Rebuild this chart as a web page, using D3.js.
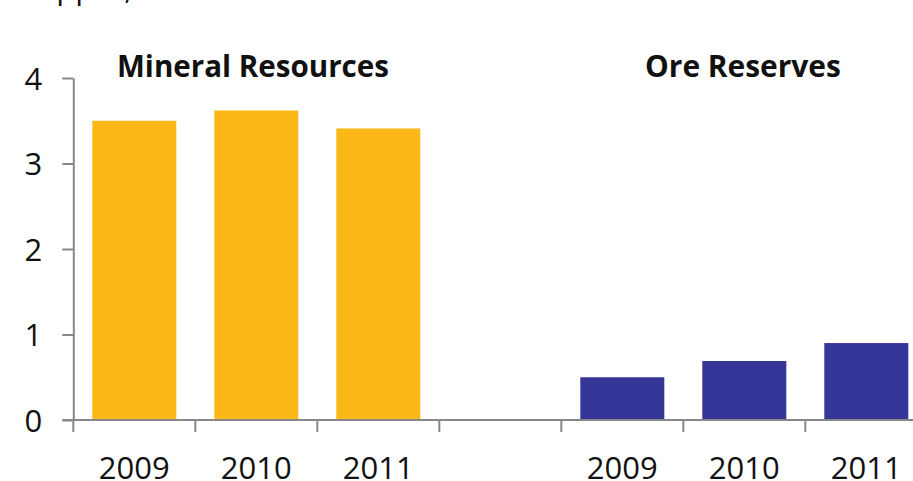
<!DOCTYPE html>
<html>
<head>
<meta charset="utf-8">
<script src="https://cdn.jsdelivr.net/npm/d3@7"></script>
<style>
  html, body { margin: 0; padding: 0; background: #fff; }
  svg { display: block; }
  text { font-family: "Open Sans", "Noto Sans", sans-serif; fill: #111; }
</style>
</head>
<body>
<svg id="chart" width="913" height="481"></svg>
<script>
// Copper contained, Mt
const years = ["2009", "2010", "2011"];
const mineralResources = [3.50, 3.62, 3.41];
const oreReserves = [0.50, 0.69, 0.90];
const yTicks = [0, 1, 2, 3, 4];
const groupTitles = ["Mineral Resources", "Ore Reserves"];
const unitLabel = "Copper, Mt";

const svg = d3.select("#chart");
const W = 913, H = 481;

// One slot per bar, with an empty slot separating the two groups
const slots = [
  ...years.map(y => ({ key: "MR" + y, year: y, value: mineralResources[years.indexOf(y)], group: 0 })),
  { key: "gap", year: "", value: null, group: -1 },
  ...years.map(y => ({ key: "OR" + y, year: y, value: oreReserves[years.indexOf(y)], group: 1 }))
];

const left = 73.3, step = 122;
const pad = 38 / step;
const x = d3.scaleBand()
  .domain(slots.map(d => d.key))
  .range([left, left + step * slots.length])
  .paddingInner(pad)
  .paddingOuter(pad / 2);

const y = d3.scaleLinear().domain([0, 4]).range([420, 78]);

const colors = ["#FBB816", "#363699"];
const axisColor = "#888888";

// Unit label, mostly above the top edge
svg.append("text")
  .attr("x", 18).attr("y", -1)
  .style("font-size", "31px")
  .text(unitLabel);

// Bars
svg.append("g").selectAll("rect")
  .data(slots.filter(d => d.value !== null))
  .join("rect")
  .attr("x", d => x(d.key))
  .attr("width", x.bandwidth())
  .attr("y", d => y(d.value))
  .attr("height", d => y(0) - y(d.value))
  .attr("fill", d => colors[d.group]);

// Y axis
const yAxis = svg.append("g")
  .attr("transform", `translate(${left},0)`)
  .call(d3.axisLeft(y).tickValues(yTicks).tickFormat(d3.format("d")).tickSize(11).tickSizeOuter(0));
yAxis.select(".domain").attr("stroke", axisColor).attr("stroke-width", 2);
yAxis.selectAll(".tick line").attr("stroke", axisColor).attr("stroke-width", 2);
yAxis.selectAll(".tick text")
  .attr("x", -31)
  .attr("dy", "0.36em")
  .style("font-size", "31px")
  .style("font-family", "\"Open Sans\", sans-serif")
  .attr("fill", "#111");

// X axis baseline
svg.append("line")
  .attr("x1", left - 11).attr("x2", W)
  .attr("y1", y(0)).attr("y2", y(0))
  .attr("stroke", axisColor).attr("stroke-width", 2);

// Tick marks at slot boundaries
const boundaries = slots.map(d => x(d.key) - x.step() * pad / 2);
svg.append("g").selectAll("line")
  .data(boundaries)
  .join("line")
  .attr("x1", d => d).attr("x2", d => d)
  .attr("y1", y(0)).attr("y2", y(0) + 12)
  .attr("stroke", axisColor).attr("stroke-width", 2);

// Year labels
svg.append("g").selectAll("text")
  .data(slots.filter(d => d.year))
  .join("text")
  .attr("x", d => x(d.key) + x.bandwidth() / 2)
  .attr("y", 479)
  .attr("text-anchor", "middle")
  .style("font-size", "31px")
  .text(d => d.year);

// Group titles
const titleSpec = [
  { text: groupTitles[0], x: 117, width: 272 },
  { text: groupTitles[1], x: 645, width: 196 }
];
titleSpec.forEach(t => {
  const el = svg.append("text")
    .attr("x", t.x).attr("y", 77)
    .style("font-size", "29px")
    .style("font-weight", "bold")
    .text(t.text);
  const w = el.node().getComputedTextLength();
  el.style("font-size", (29 * t.width / w).toFixed(2) + "px");
});
</script>
</body>
</html>
